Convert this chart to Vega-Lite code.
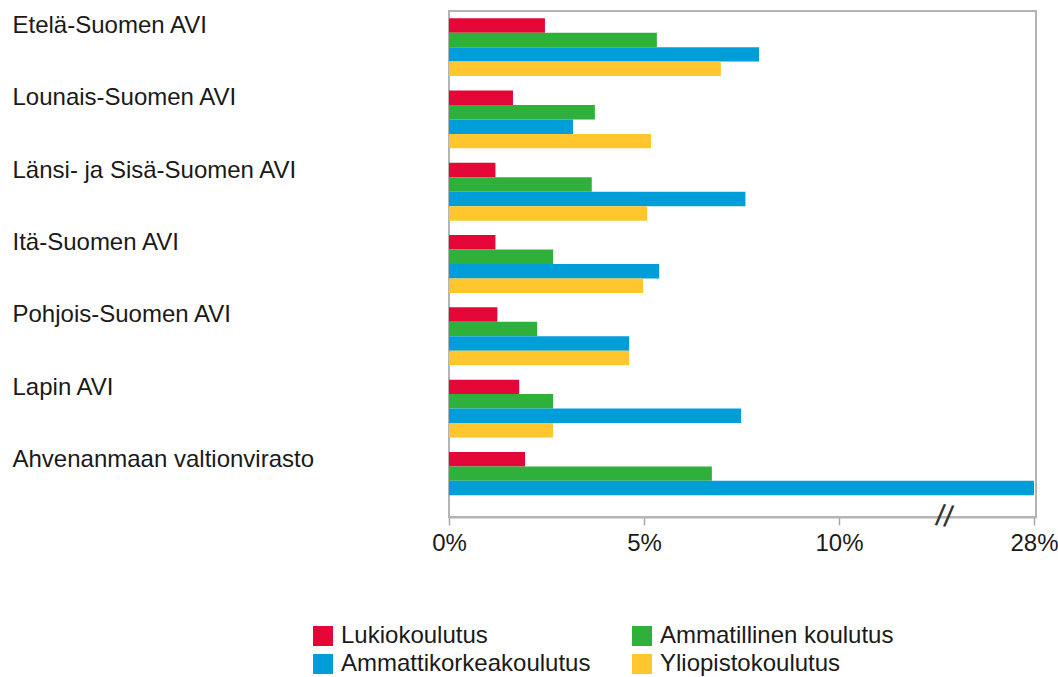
{
  "$schema": "https://vega.github.io/schema/vega-lite/v6.json",
  "width": 587,
  "height": 506,
  "autosize": {"type": "none"},
  "padding": {"left": 449, "top": 11, "right": 22, "bottom": 160},
  "background": "white",
  "config": {
    "view": {"stroke": "#b4b4b4", "strokeWidth": 2},
    "font": "Liberation Sans"
  },
  "layer": [
    {
      "data": {
        "values": [
          {"region": "Etelä-Suomen AVI", "series": "Lukiokoulutus", "value": 2.46},
          {"region": "Etelä-Suomen AVI", "series": "Ammatillinen koulutus", "value": 5.33},
          {"region": "Etelä-Suomen AVI", "series": "Ammattikorkeakoulutus", "value": 7.95},
          {"region": "Etelä-Suomen AVI", "series": "Yliopistokoulutus", "value": 6.97},
          {"region": "Lounais-Suomen AVI", "series": "Lukiokoulutus", "value": 1.64},
          {"region": "Lounais-Suomen AVI", "series": "Ammatillinen koulutus", "value": 3.74},
          {"region": "Lounais-Suomen AVI", "series": "Ammattikorkeakoulutus", "value": 3.18},
          {"region": "Lounais-Suomen AVI", "series": "Yliopistokoulutus", "value": 5.18},
          {"region": "Länsi- ja Sisä-Suomen AVI", "series": "Lukiokoulutus", "value": 1.19},
          {"region": "Länsi- ja Sisä-Suomen AVI", "series": "Ammatillinen koulutus", "value": 3.66},
          {"region": "Länsi- ja Sisä-Suomen AVI", "series": "Ammattikorkeakoulutus", "value": 7.6},
          {"region": "Länsi- ja Sisä-Suomen AVI", "series": "Yliopistokoulutus", "value": 5.08},
          {"region": "Itä-Suomen AVI", "series": "Lukiokoulutus", "value": 1.19},
          {"region": "Itä-Suomen AVI", "series": "Ammatillinen koulutus", "value": 2.67},
          {"region": "Itä-Suomen AVI", "series": "Ammattikorkeakoulutus", "value": 5.39},
          {"region": "Itä-Suomen AVI", "series": "Yliopistokoulutus", "value": 4.98},
          {"region": "Pohjois-Suomen AVI", "series": "Lukiokoulutus", "value": 1.24},
          {"region": "Pohjois-Suomen AVI", "series": "Ammatillinen koulutus", "value": 2.26},
          {"region": "Pohjois-Suomen AVI", "series": "Ammattikorkeakoulutus", "value": 4.62},
          {"region": "Pohjois-Suomen AVI", "series": "Yliopistokoulutus", "value": 4.62},
          {"region": "Lapin AVI", "series": "Lukiokoulutus", "value": 1.8},
          {"region": "Lapin AVI", "series": "Ammatillinen koulutus", "value": 2.67},
          {"region": "Lapin AVI", "series": "Ammattikorkeakoulutus", "value": 7.49},
          {"region": "Lapin AVI", "series": "Yliopistokoulutus", "value": 2.67},
          {"region": "Ahvenanmaan valtionvirasto", "series": "Lukiokoulutus", "value": 1.95},
          {"region": "Ahvenanmaan valtionvirasto", "series": "Ammatillinen koulutus", "value": 6.74},
          {"region": "Ahvenanmaan valtionvirasto", "series": "Ammattikorkeakoulutus", "value": 28}
        ]
      },
      "mark": {"type": "bar"},
      "encoding": {
        "y": {
          "field": "region",
          "type": "nominal",
          "sort": null,
          "scale": {"paddingInner": 0.2, "paddingOuter": 0.1},
          "axis": {
            "title": null,
            "ticks": false,
            "tickSize": 0,
            "domain": false,
            "labelAlign": "left",
            "labelPadding": 437,
            "labelLimit": 420,
            "labelFontSize": 24,
            "labelBaseline": "alphabetic",
            "labelOffset": -14,
            "labelColor": "#1a1a1a"
          }
        },
        "yOffset": {
          "field": "series",
          "type": "nominal",
          "scale": {
            "domain": ["Lukiokoulutus", "Ammatillinen koulutus", "Ammattikorkeakoulutus", "Yliopistokoulutus"],
            "paddingInner": 0,
            "paddingOuter": 0
          }
        },
        "x": {
          "field": "value",
          "type": "quantitative",
          "scale": {"domain": [0, 12.7, 28.34], "range": [0, 495.3, 587], "nice": false, "zero": false},
          "axis": {
            "title": null,
            "values": [0, 5, 10, 28],
            "labelExpr": "datum.value + '%'",
            "grid": false,
            "tickSize": 8,
            "tickColor": "#a8a8a8",
            "tickWidth": 1.5,
            "domain": true,
            "domainColor": "#b4b4b4",
            "domainWidth": 2,
            "labelFontSize": 24,
            "labelPadding": 6,
            "labelFlush": false,
            "labelColor": "#1a1a1a"
          }
        },
        "color": {
          "field": "series",
          "type": "nominal",
          "scale": {
            "domain": ["Lukiokoulutus", "Ammatillinen koulutus", "Ammattikorkeakoulutus", "Yliopistokoulutus"],
            "range": ["#e30637", "#2fb03b", "#009ed9", "#ffc62e"]
          },
          "legend": {
            "title": null,
            "orient": "none",
            "direction": "horizontal",
            "legendX": -138,
            "legendY": 613,
            "columns": 2,
            "symbolType": "square",
            "symbolSize": 400,
            "symbolStrokeWidth": 0,
            "symbolOpacity": 1,
            "labelFontSize": 24,
            "labelOffset": 6,
            "columnPadding": 39,
            "rowPadding": 4,
            "labelLimit": 400,
            "labelColor": "#1a1a1a",
            "padding": 0
          }
        }
      }
    },
    {
      "data": {"values": [{"brk": 12.7}]},
      "mark": {"type": "text", "text": "//", "fontSize": 30, "color": "#333333", "baseline": "middle", "align": "center", "angle": 8},
      "encoding": {
        "x": {"field": "brk", "type": "quantitative"},
        "y": {"value": {"expr": "height"}}
      }
    }
  ]
}
